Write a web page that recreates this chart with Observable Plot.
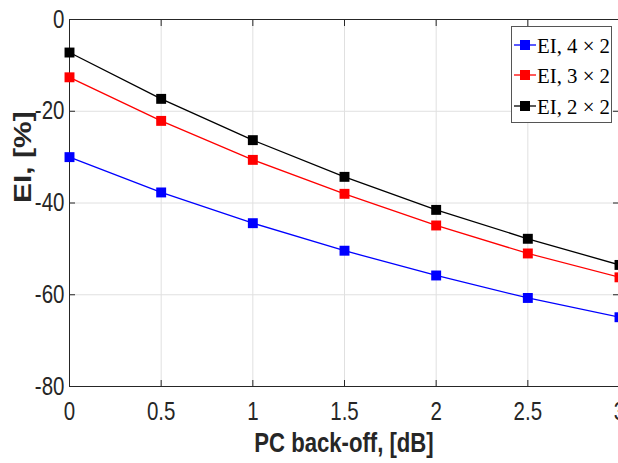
<!DOCTYPE html>
<html>
<head>
<meta charset="utf-8">
<script src="https://cdn.jsdelivr.net/npm/d3@7"></script>
<script src="https://cdn.jsdelivr.net/npm/@observablehq/plot@0.6"></script>
<style>
  html, body { margin: 0; padding: 0; background: #fff; overflow: hidden; }
  #wrap { position: relative; width: 618px; height: 463px; }
  #legend { position: absolute; left: 510px; top: 25px; }
</style>
</head>
<body>
<div id="wrap"></div>
<script>
const backoff = [0, 0.5, 1, 1.5, 2, 2.5, 3];
const ei4x2 = [-30.0, -37.7, -44.4, -50.4, -55.8, -60.7, -64.9];
const ei3x2 = [-12.6, -22.1, -30.6, -38.0, -44.9, -51.0, -56.2];
const ei2x2 = [-7.2, -17.3, -26.3, -34.3, -41.5, -47.8, -53.5];
const seriesNames = ["EI, 4 × 2", "EI, 3 × 2", "EI, 2 × 2"];
const seriesColors = ["#0000ff", "#ff0000", "#000000"];
const xTicks = [0, 0.5, 1, 1.5, 2, 2.5, 3];
const yTicks = [-80, -60, -40, -20, 0];
const xLabel = "PC back-off, [dB]";
const yLabel = "EI, [%]";

const seriesValues = [ei4x2, ei3x2, ei2x2];
const data = [];
seriesValues.forEach((vals, s) => vals.forEach((v, i) => data.push({series: seriesNames[s], x: backoff[i], y: v})));

const sansFont = "'Liberation Sans', Arial, Helvetica, sans-serif";
const axisCol = "#262626";

const chart = Plot.plot({
  width: 618,
  height: 463,
  marginLeft: 69, marginRight: 0, marginTop: 19, marginBottom: 77,
  style: {background: "#fff", overflow: "visible", fontFamily: sansFont},
  x: {domain: [0, 3], range: [69, 619], ticks: xTicks},
  y: {domain: [-80, 0], range: [386, 19], ticks: yTicks},
  color: {domain: seriesNames, range: seriesColors},
  marks: [
    Plot.gridX(xTicks, {stroke: "#e0e0e0", strokeOpacity: 1, strokeWidth: 1}),
    Plot.gridY(yTicks, {stroke: "#e0e0e0", strokeOpacity: 1, strokeWidth: 1}),
    Plot.axisX(xTicks, {anchor: "bottom", tickSize: -6, tickFormat: () => "", stroke: axisCol, label: null}),
    Plot.axisX(xTicks, {anchor: "top", tickSize: -6, tickFormat: () => "", stroke: axisCol, label: null}),
    Plot.axisY(yTicks, {anchor: "left", tickSize: -6, tickFormat: () => "", stroke: axisCol, label: null}),
    Plot.axisY(yTicks, {anchor: "right", tickSize: -6, tickFormat: () => "", stroke: axisCol, label: null}),
    Plot.axisX(xTicks, {anchor: "bottom", tickSize: 0, tickPadding: 16, fontSize: 25, fill: axisCol, label: null, tickFormat: d => String(d), className: "sq-text"}),
    Plot.axisY(yTicks, {anchor: "left", tickSize: 0, tickPadding: 5, fontSize: 25, fill: axisCol, label: null, tickFormat: d => String(d), className: "sq-text"}),
    Plot.frame({stroke: axisCol, strokeWidth: 1}),
    Plot.line(data, {x: "x", y: "y", z: "series", stroke: "series", strokeWidth: 1.3}),
    Plot.dot(data, {x: "x", y: "y", fill: "series", symbol: "square", r: 5.6, stroke: null}),
    Plot.text([xLabel], {frameAnchor: "bottom", dy: 65, text: d => d, fontSize: 27, fontWeight: "bold", fill: axisCol, className: "sq-text"}),
    Plot.text([yLabel], {frameAnchor: "left", dx: -46.5, rotate: -90, text: d => d, fontSize: 30, fontWeight: "bold", fill: axisCol, className: "sq-text"})
  ]
});

const wrap = document.getElementById("wrap");
wrap.appendChild(chart);

// the reference figure is horizontally squeezed: compress text glyphs horizontally
const K = 0.82;
chart.querySelectorAll("text").forEach(t => {
  let node = t;
  let inSq = false;
  while (node && node !== chart) {
    if (node.classList && [...node.classList].some(c => c.startsWith("sq-text"))) { inSq = true; break; }
    node = node.parentNode;
  }
  if (!inSq || !t.textContent) return;
  const tr = t.getAttribute("transform");
  if (tr && /translate/.test(tr)) {
    if (/rotate/.test(tr)) t.setAttribute("transform", tr.replace(/rotate/, `scale(${K},1) rotate`));
    else t.setAttribute("transform", tr + ` scale(${K},1)`);
  } else {
    const len = t.getComputedTextLength();
    t.setAttribute("textLength", len * K);
    t.setAttribute("lengthAdjust", "spacingAndGlyphs");
  }
});

// legend
const ns = "http://www.w3.org/2000/svg";
const lg = document.createElementNS(ns, "svg");
lg.setAttribute("id", "legend");
lg.setAttribute("width", 104);
lg.setAttribute("height", 99);
const box = document.createElementNS(ns, "rect");
box.setAttribute("x", 1.5); box.setAttribute("y", 1.5);
box.setAttribute("width", 100); box.setAttribute("height", 96);
box.setAttribute("fill", "#fff"); box.setAttribute("stroke", "#555"); box.setAttribute("stroke-width", 1);
lg.appendChild(box);
const rowY = [20, 50, 81];
seriesNames.forEach((name, i) => {
  const y = rowY[i];
  const ln = document.createElementNS(ns, "line");
  ln.setAttribute("x1", 4); ln.setAttribute("x2", 26);
  ln.setAttribute("y1", y); ln.setAttribute("y2", y);
  ln.setAttribute("stroke", seriesColors[i]); ln.setAttribute("stroke-width", 1.3);
  lg.appendChild(ln);
  const sq = document.createElementNS(ns, "rect");
  sq.setAttribute("x", 10); sq.setAttribute("y", y - 5);
  sq.setAttribute("width", 10); sq.setAttribute("height", 10);
  sq.setAttribute("fill", seriesColors[i]);
  lg.appendChild(sq);
  const tx = document.createElementNS(ns, "text");
  tx.setAttribute("x", 27); tx.setAttribute("y", y + 7.5);
  tx.setAttribute("font-family", "'Liberation Serif', 'DejaVu Serif', serif");
  tx.setAttribute("font-size", 22);
  tx.setAttribute("fill", "#000");
  tx.setAttribute("textLength", 73);
  tx.setAttribute("lengthAdjust", "spacingAndGlyphs");
  tx.textContent = name;
  lg.appendChild(tx);
});
wrap.appendChild(lg);
</script>
</body>
</html>
